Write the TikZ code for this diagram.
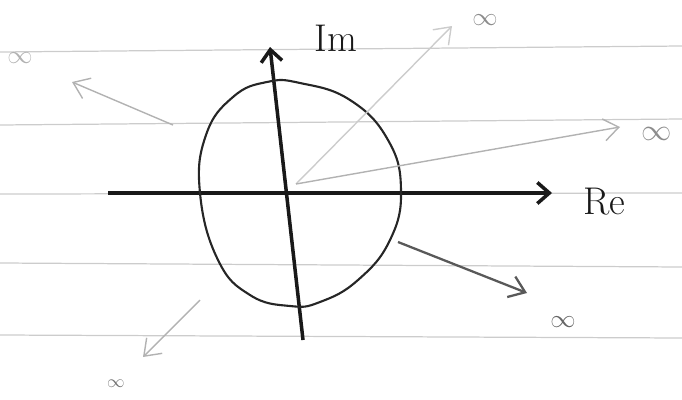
\documentclass[tikz,border=0pt]{standalone}
\usepackage{xcolor}
\usepackage{tikz}
\usetikzlibrary{positioning,arrows.meta}

\begin{document}
\begin{tikzpicture}[x=0.02cm,y=-0.02cm,
  rule/.style={draw=black!20,line width=0.7pt},
  axis/.style={-{Straight Barb[length=2.4mm,width=4.2mm]},draw=black!90,line width=2pt},
  toinf/.style={-{Straight Barb[length=3mm,width=4.4mm]},draw=black!30,line width=0.8pt},
  axlabel/.style={font=\fontsize{22}{24}\selectfont,text=black!90,inner sep=0pt},
  inflabel/.style={font=\Large,text=black!45,inner sep=0pt}]
\useasboundingbox (0,0) rectangle (682,399);
% ruled paper
\draw[rule] (0,52) -- (682,46);
\draw[rule] (0,125) -- (682,119);
\draw[rule] (0,194) -- (682,193);
\draw[rule] (0,263) -- (682,267);
\draw[rule] (0,335) -- (682,338);
% axes
\coordinate (reL) at (108,193);
\coordinate (reR) at (552,193);
\coordinate (imB) at (303,340);
\coordinate (imT) at (270,47);
\node[axlabel] (re) at (604,202) {Re};
\node[axlabel] (im) at (336,38) {Im};
\draw[axis] (reL) -- (reR);
\draw[axis] (imB) -- (imT);
% unit circle, by hand
\draw[black!85,line width=1.2pt] plot[smooth cycle,tension=0.75] coordinates {
  (200,193) (206,135) (233,97) (267,82) (300,83)
  (350,100) (388,140) (401,190) (390,240) (358,280)
  (320,302) (290,306) (250,295) (218,260)};
% off to infinity
\coordinate (o) at (296,184);
\coordinate (ul) at (173,125);
\coordinate (lr) at (398,242);
\coordinate (ll) at (200,300);
\node[inflabel,text=black!30] (infUL) at (20,58) {$\infty$};
\node[inflabel] (infU) at (485,20) {$\infty$};
\node[inflabel,font=\LARGE] (infR) at (657,134) {$\infty$};
\node[inflabel,text=black!60] (infLR) at (563,322) {$\infty$};
\node[inflabel,text=black!55,font=\normalsize] (infLL) at (116,384) {$\infty$};
\draw[toinf] (ul) -- (72,82);
\draw[toinf,draw=black!20] (o) -- (452,26);
\draw[toinf] (o) -- (620,127);
\draw[toinf,draw=black!65,line width=1.3pt] (lr) -- (527,293);
\draw[toinf] (ll) -- (143,357);
\end{tikzpicture}
\end{document}
